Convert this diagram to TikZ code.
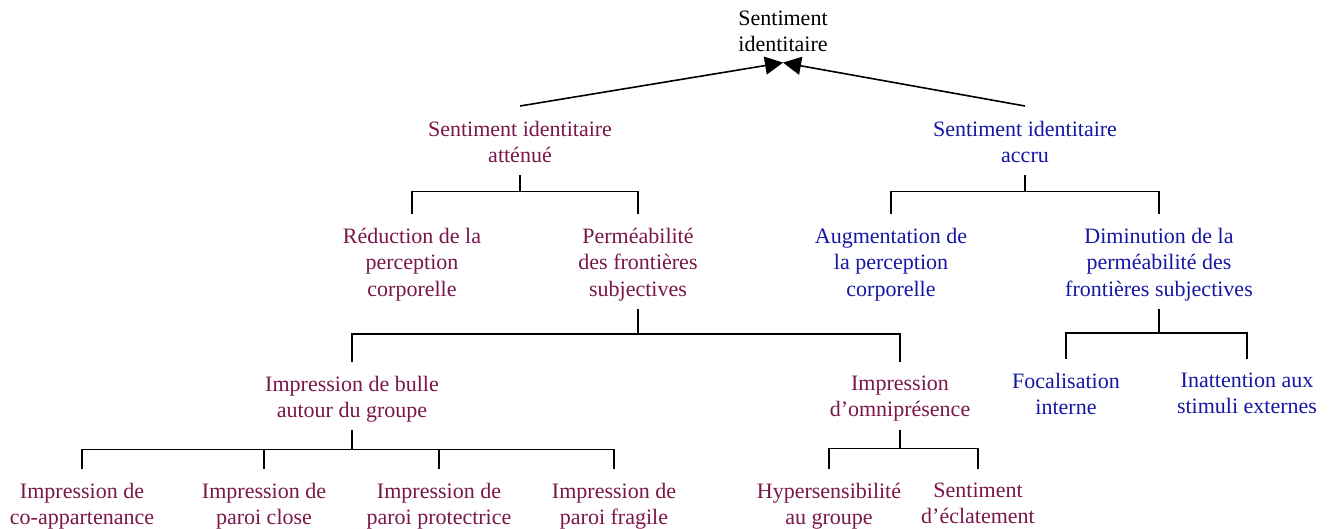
\documentclass[tikz,border=0pt]{standalone}
\usepackage{fontspec}
\setmainfont{Liberation Serif}
\usetikzlibrary{arrows.meta}

\definecolor{attenue}{RGB}{122,22,72}
\definecolor{accru}{RGB}{22,22,165}

\begin{document}
\begin{tikzpicture}[x=1pt,y=-1pt,>={Triangle[length=18pt,width=18pt]},
  font={\fontsize{22}{26.5}\selectfont},line width=1.6pt,
  lbl/.style={anchor=north,align=center,inner xsep=2pt,inner ysep=4pt,
    execute at begin node=\strut,execute at end node=\strut},
  att/.style={lbl,text=attenue},
  acc/.style={lbl,text=accru},
  branch/.style={shorten >=9.5pt}]
\useasboundingbox (0,0) rectangle (1334,528);
% y runs downwards; each node is placed 19 above the baseline of its first line
\node[lbl] (top) at (783,6) {Sentiment\\identitaire};
\coordinate (apex) at ([yshift=2pt]top.south);
% the two sides
\node[att] (atten) at (520,116) {Sentiment identitaire\\atténué};
\node[acc] (accr) at (1025,116) {Sentiment identitaire\\accru};
\draw[->] ([yshift=10pt]atten.north) -- (apex);
\draw[->] ([yshift=10pt]accr.north) -- (apex);
% second level
\node[att] (reduc) at (412,223) {Réduction de la\\perception\\corporelle};
\node[att] (perm) at (638,223) {Perméabilité\\des frontières\\subjectives};
\node[acc] (augm) at (891,223) {Augmentation de\\la perception\\corporelle};
\node[acc] (dimin) at (1159,223) {Diminution de la\\perméabilité des\\frontières subjectives};
\foreach \c in {reduc,perm} \draw[branch] (atten.south) -- ++(0,16) -| (\c.north);
\foreach \c in {augm,dimin} \draw[branch] (accr.south) -- ++(0,16) -| (\c.north);
% third level
\node[att] (bulle) at (352,371) {Impression de bulle\\autour du groupe};
\node[att] (omni) at (900,371) {Impression\\d’omniprésence};
\node[acc] (focal) at (1066,368) {Focalisation\\interne};
\node[acc] (inatt) at (1247,368) {Inattention aux\\stimuli externes};
\foreach \c in {bulle,omni} \draw[branch] (perm.south) -- ++(0,25) -| (\c.north);
\foreach \c in {focal,inatt} \draw[branch] (dimin.south) -- ++(0,24) -| (\c.north);
% fourth level
\node[att] (coapp) at (82,478) {Impression de\\co-appartenance};
\node[att] (close) at (264,478) {Impression de\\paroi close};
\node[att] (protec) at (439,478) {Impression de\\paroi protectrice};
\node[att] (fragil) at (614,478) {Impression de\\paroi fragile};
\node[att] (hyper) at (829,478) {Hypersensibilité\\au groupe};
\node[att] (eclat) at (978,478) {Sentiment\\d’éclatement};
\foreach \c in {coapp,close,protec,fragil} \draw[branch] (bulle.south) -- ++(0,19) -| (\c.north);
\foreach \c in {hyper,eclat} \draw[branch] (omni.south) -- ++(0,19) -| (\c.north);
\end{tikzpicture}
\end{document}
